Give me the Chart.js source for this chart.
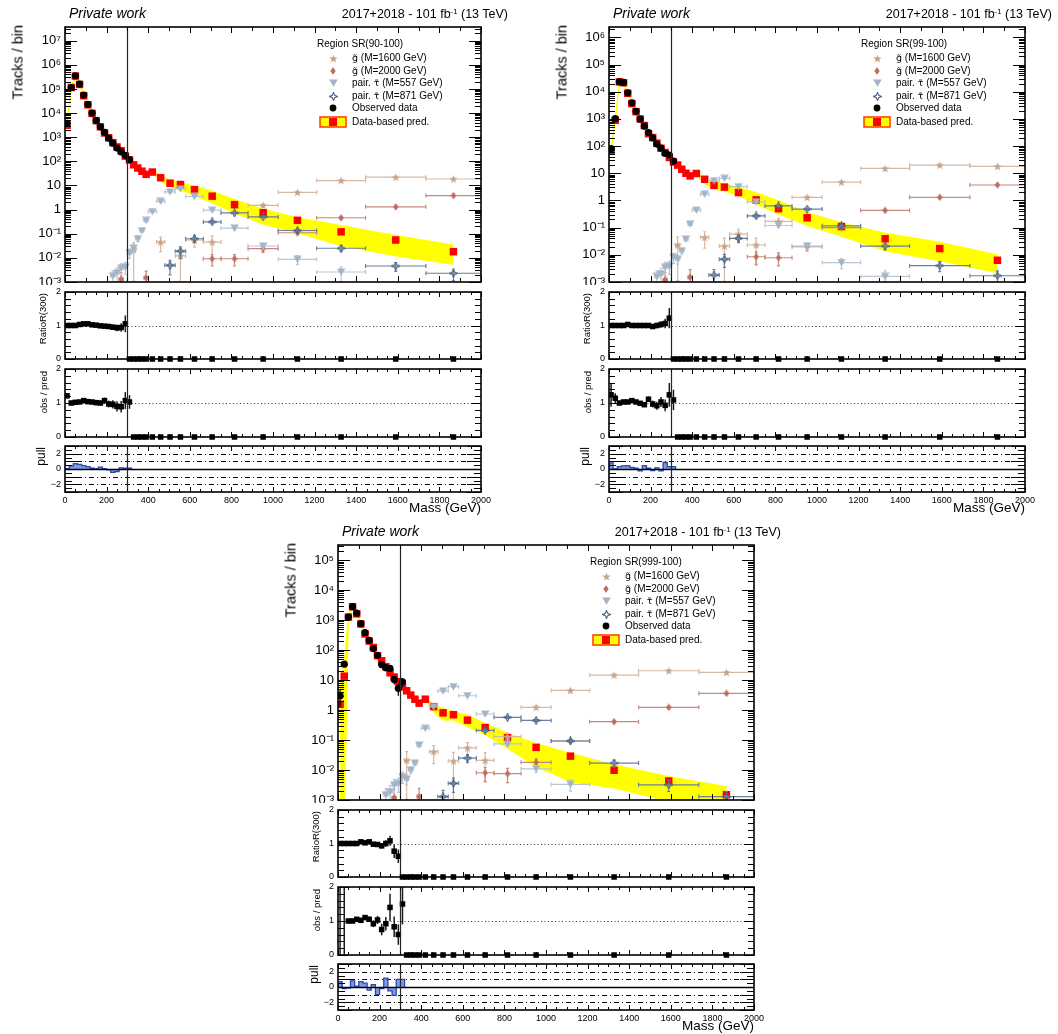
<!DOCTYPE html>
<html>
<head>
<meta charset="utf-8">
<title>Mass distributions</title>
<script src="https://cdn.jsdelivr.net/npm/chart.js@4.4.1/dist/chart.umd.min.js"></script>
<style>
html,body{margin:0;padding:0;background:#fff;}
body{width:1058px;height:1034px;position:relative;overflow:hidden;font-family:"Liberation Sans",Arial,Helvetica,sans-serif;}
canvas{position:absolute;display:block;}
.txt{position:absolute;white-space:nowrap;color:#000;line-height:1;z-index:10;transform:translateY(-50%);}
.vt{position:absolute;white-space:nowrap;color:#000;line-height:1;z-index:10;writing-mode:vertical-rl;transform:rotate(180deg);}
sup{font-size:62%;vertical-align:0;position:relative;top:-0.55em;}
.dj{font-family:"DejaVu Sans",sans-serif;font-size:0.95em;}
</style>
</head>
<body>
<script>
const _ = null;
// ---------------- categories / ticks ----------------
const massBinEdges = [0,20,40,60,80,100,120,140,160,180,200,220,240,260,280,300,320,340,360,380,400,440,480,530,580,665,750,880,1025,1210,1445,1735,2000];
const massTickLabels = [0,200,400,600,800,1000,1200,1400,1600,1800,2000];
const regionTitles = ['Region SR(90-100)','Region SR(99-100)','Region SR(999-100)'];
const legendLabels = ['<span class="dj">g\u0303</span> (M=1600 GeV)','<span class="dj">g\u0303</span> (M=2000 GeV)',
  'pair. <span class="dj">\u03C4\u0303</span> (M=557 GeV)','pair. <span class="dj">\u03C4\u0303</span> (M=871 GeV)','Observed data','Data-based pred.'];
const blindCut = 300;

// ---------------- SR(90-100) ----------------
const obs_90 = [3800,115000,350000,160000,56000,23000,10000,4900,2700,1600,920,570,355,245,177,117];
const pred_90 = [3140,115000,343000,155000,52300,22100,9700,4850,2700,1500,948,594,394,275,165,114, 72,53,39,29,36,21,12.4,11,6.7,3.6,1.6,0.74,0.36,0.12,0.055,0.018];
const predHi_90 = [3500,125000,370000,168000,57000,24000,10600,5300,2950,1650,1040,655,435,305,185,128, 80,59,44,33,41,26,17,13.5,9.3,5.8,2.6,1.05,0.46,0.22,0.085,0.034];
const predLo_90 = [2800,105000,315000,142000,48000,20200,8800,4400,2450,1350,860,535,355,245,146,100, 64,47,34,25,31,15,9,6.5,3.8,1.9,0.75,0.25,0.11,0.032,0.012,0.0054];
const g1600_90 = [_,_,_,_,_,_,_,_,_,_,_,_,_,_,_,_, 0.022,_,_,_,_,0.045,_,0.012,0.055,0.045,_,1.5,5.2,16,22,18.6];
const g2000_90 = [_,_,_,_,_,_,_,_,_,_,_,_,_,0.0013,_,_,_,_,_,0.0015,_,_,_,_,_,0.0092,0.0092,0.024,0.11,0.46,1.3,3.8];
const tau557_90 = [_,_,_,_,_,_,_,_,_,_,_,0.0018,0.0024,0.0038,0.0042,0.016,0.025,0.063,0.136,0.36,0.83,2.2,5.4,7.2,3.5,0.95,0.17,0.031,0.0087,0.0026,_,_];
const tau871_90 = [_,_,_,_,_,_,_,_,_,_,_,_,_,_,_,_,_,_,_,_,_,_,0.0049,0.019,0.062,0.31,0.73,0.5,0.136,0.025,0.0046,0.0023];
const ratio_90 = [1.0,1.0,1.0,1.03,1.05,1.05,1.02,1.01,0.99,0.98,0.97,0.95,0.93,0.94,1.05,0,0,0,0,0,0,0,0,0,0,0,0,0,0,0,0,0];
const ratioErr_90 = [0.01,0.01,0.01,0.01,0.015,0.02,0.03,0.03,0.04,0.05,0.06,0.08,0.1,0.13,0.25];
const obsPred_90 = [1.21,1.0,1.02,1.03,1.07,1.04,1.03,1.01,1.0,1.07,0.97,0.96,0.9,0.89,1.07,1.03,0,0,0,0,0,0,0,0,0,0,0,0,0,0,0,0];
const obsPredErr_90 = [0.06,0.02,0.02,0.02,0.03,0.04,0.05,0.06,0.07,0.09,0.1,0.12,0.15,0.17,0.25,0.2];
const pull_90 = [2.05,0.05,0.4,0.7,0.6,0.45,0.3,0.1,0.05,0.25,0.05,-0.1,-0.45,-0.35,0.15,0.1];

// ---------------- SR(99-100) ----------------
const obs_99 = [81,1020,23000,22000,9100,3900,1900,980,540,316,200,118,85,54,47,28];
const pred_99 = [65,895,23000,21400,8800,3640,1840,990,568,285,206,128,83,58,38,26, 20,14,10,8,9.8,6.0,3.6,3.1,1.95,1.05,0.5,0.23,0.11,0.039,0.017,0.0063];
const predHi_99 = [80,980,25000,23500,9600,4000,2000,1080,620,315,226,141,92,64,42,29, 22.5,16,11.5,9.2,11,6.9,4.8,4.2,3.0,1.95,0.98,0.36,0.15,0.063,0.029,0.01];
const predLo_99 = [52,810,21000,19500,8000,3300,1680,900,516,259,187,116,75,52,34,23, 17.5,12,8.7,6.9,8.5,4.0,2.6,2.2,1.5,0.72,0.32,0.12,0.048,0.014,0.006,0.0022];
const g1600_99 = [_,_,_,_,_,_,_,_,_,_,_,_,_,_,_,_, 0.023,_,_,_,_,0.044,_,0.021,0.058,0.023,0.17,1.3,4.7,15,20,18];
const g2000_99 = [_,_,_,_,_,_,_,_,_,_,_,_,_,0.0012,_,_,_,_,_,0.0015,_,_,_,_,_,0.0085,0.0078,0.02,0.1,0.43,1.3,3.7];
const tau557_99 = [_,_,_,_,_,_,_,_,_,_,_,0.0016,0.002,0.0035,0.0038,0.0081,0.007,0.014,0.038,0.135,0.44,1.7,5.3,6.5,3.2,0.89,0.12,0.021,0.0052,0.0016,_,_];
const tau871_99 = [_,_,_,_,_,_,_,_,_,_,_,_,_,_,_,_,_,_,_,_,_,_,0.0018,0.0069,0.04,0.27,0.63,0.48,0.117,0.021,0.004,0.0017];
const ratio_99 = [1.0,1.0,1.0,1.0,1.03,1.0,1.0,1.0,1.0,1.0,0.97,1.0,1.03,1.06,1.22,0,0,0,0,0,0,0,0,0,0,0,0,0,0,0,0,0];
const ratioErr_99 = [0.02,0.01,0.01,0.01,0.01,0.02,0.02,0.03,0.04,0.05,0.07,0.08,0.1,0.14,0.3];
const obsPred_99 = [1.24,1.14,1.0,1.03,1.03,1.07,1.03,0.99,0.95,1.11,0.97,0.92,1.03,0.93,1.24,1.09,0,0,0,0,0,0,0,0,0,0,0,0,0,0,0,0];
const obsPredErr_99 = [0.35,0.15,0.03,0.02,0.02,0.03,0.04,0.05,0.07,0.08,0.1,0.12,0.15,0.17,0.35,0.3];
const pull_99 = [0.55,0.8,0.0,0.3,0.4,0.45,0.2,0.1,-0.25,0.45,0.1,-0.2,0.15,-0.25,0.85,0.3];

// ---------------- SR(999-100) ----------------
const obs_999 = [3.0,34,1260,2800,1700,760,380,210,112,67,33,26,24.5,10.5,5.3,8.8];
const obsErr_999 = [1.7,5.8,35,53,41,28,19,14.5,10.6,8.2,5.7,5.1,5.0,3.2,2.3,3.0];
const pred_999 = [1.55,13.5,1260,2800,1620,745,345,200,122,65,44,28,17.5,12.6,8.8,5.9, 4.4,3.16,2.3,1.7,2.3,1.3,0.81,0.7,0.46,0.26,0.12,0.057,0.029,0.0098,0.0043,0.0015];
const predHi_999 = [5,40,1400,3100,1780,820,380,220,135,72,49,31,19.5,14,9.5,6.6, 4.9,3.5,2.55,1.9,2.5,1.55,1.14,0.88,0.68,0.36,0.17,0.077,0.036,0.015,0.006,0.0028];
const predLo_999 = [0.0001,0.0001,1120,2500,1460,670,310,180,110,58,39,25,15.5,11.2,7.6,5.2, 3.9,2.8,2.05,1.5,2.05,0.88,0.46,0.47,0.28,0.15,0.053,0.013,0.0041,0.0025,0.0009,0.0005];
const g1600_999 = [_,_,_,_,_,_,_,_,_,_,_,_,_,_,_,_, 0.021,_,_,_,_,0.041,_,0.02,0.055,0.021,0.13,1.23,4.5,14.7,20.5,18];
const g2000_999 = [_,_,_,_,_,_,_,_,_,_,_,_,_,0.0012,_,_,_,_,_,0.0013,_,_,_,_,_,0.0081,0.0076,0.018,0.093,0.41,1.23,3.6];
const tau557_999 = [_,_,_,_,_,_,_,_,_,_,_,0.0015,0.0019,0.0032,0.0036,0.006,0.005,0.01,0.017,0.068,0.245,1.3,4.3,6.0,3.0,0.74,0.074,0.011,0.0033,_,_,_];
const tau871_999 = [_,_,_,_,_,_,_,_,_,_,_,_,_,_,_,_,_,_,_,_,_,_,0.0013,0.0036,0.025,0.21,0.57,0.45,0.093,0.017,0.0032,0.0013];
const ratio_999 = [1.0,1.0,1.0,1.0,1.0,1.05,1.02,1.05,0.98,0.97,0.93,1.0,1.08,0.77,0.62,0,0,0,0,0,0,0,0,0,0,0,0,0,0,0,0,0];
const ratioErr_999 = [0.02,0.02,0.01,0.01,0.01,0.02,0.03,0.04,0.05,0.06,0.08,0.1,0.15,0.2,0.2];
const obsPred_999 = [2.6,2.5,1.0,1.0,1.05,1.02,1.1,1.05,0.92,1.03,0.75,0.92,1.4,0.83,0.6,1.5,0,0,0,0,0,0,0,0,0,0,0,0,0,0,0,0];
const obsPredErr_999 = [2.6,2.5,0.03,0.03,0.04,0.05,0.07,0.08,0.1,0.12,0.17,0.2,0.4,0.3,0.3,0.6];
const pull_999 = [0.5,0.7,-0.2,-0.15,0.8,0.1,0.7,0.5,-0.4,0.3,-1.0,-0.2,1.15,-0.5,-1.1,1.0];

// relative stat. uncertainties of the signal samples (per bin)
const errG1600 = [_,_,_,_,_,_,_,_,_,_,_,_,_,0.9,_,_,0.95,_,_,_,_,0.6,_,0.95,0.5,0.8,0.3,0.12,0.08,0.06,0.06,0.06];
const errG2000 = [_,_,_,_,_,_,_,_,_,_,_,_,_,0.9,_,_,_,_,_,0.9,_,_,_,_,_,0.5,0.5,0.3,0.12,0.08,0.06,0.06];
const errTau557 = [_,_,_,_,_,_,_,_,_,_,_,0.6,0.6,0.5,0.5,0.4,0.35,0.25,0.15,0.1,0.08,0.06,0.05,0.05,0.06,0.08,0.15,0.25,0.4,0.6,_,_];
const errTau871 = [_,_,_,_,_,_,_,_,_,_,_,_,_,_,_,_,_,_,_,_,_,_,0.6,0.5,0.3,0.12,0.08,0.08,0.12,0.25,0.4,0.5];

// ---------------- style / layout ----------------
const FONT = '"Liberation Sans", Arial, Helvetica, sans-serif';
Chart.defaults.font.family = FONT;
const C_G1600 = '#c9a387', B_G1600 = '#d6b9a4';
const C_G2000 = '#bb6c5e', B_G2000 = '#c8897c';
const C_T557 = '#a2b4c6', B_T557 = '#b9c6d3';
const C_T871 = '#4e6788', B_T871 = '#6a7fa0';

const BASE = {L:65, W:416, main:{T:27,H:255}, ratio:{T:292,H:67}, obs:{T:369,H:68}, pull:{T:446,H:46}};
const PADS = {main:{l:60,r:16,t:14,b:14}, ratio:{l:60,r:16,t:14,b:14}, obs:{l:60,r:16,t:14,b:14}, pull:{l:60,r:16,t:14,b:26}};

const PANELS = [
  {dx:0, dy:0, title:regionTitles[0], ymax:3.7e7, obs:obs_90, obsErr:null, pred:pred_90, hi:predHi_90, lo:predLo_90,
   sig:[g1600_90,g2000_90,tau557_90,tau871_90], ratio:ratio_90, ratioErr:ratioErr_90, op:obsPred_90, opErr:obsPredErr_90, pull:pull_90},
  {dx:544, dy:0, title:regionTitles[1], ymax:2.4e6, obs:obs_99, obsErr:null, pred:pred_99, hi:predHi_99, lo:predLo_99,
   sig:[g1600_99,g2000_99,tau557_99,tau871_99], ratio:ratio_99, ratioErr:ratioErr_99, op:obsPred_99, opErr:obsPredErr_99, pull:pull_99},
  {dx:273, dy:518, title:regionTitles[2], ymax:3.2e5, obs:obs_999, obsErr:obsErr_999, pred:pred_999, hi:predHi_999, lo:predLo_999,
   sig:[g1600_999,g2000_999,tau557_999,tau871_999], ratio:ratio_999, ratioErr:ratioErr_999, op:obsPred_999, opErr:obsPredErr_999, pull:pull_999}
];

// ---------------- glyphs ----------------
function mk(w, h, fn){ const c = document.createElement('canvas'); c.width = w; c.height = h; fn(c.getContext('2d'), w, h); return c; }
const G_G1600 = mk(9, 9, (g, w, h) => { g.fillStyle = C_G1600; g.beginPath();
  for (let i = 0; i < 10; i++) { const a = -Math.PI/2 + i*Math.PI/5, r = i % 2 ? 1.8 : 4.4; g.lineTo(w/2 + r*Math.cos(a), h/2 + 0.4 + r*Math.sin(a)); }
  g.closePath(); g.fill(); });
const G_G2000 = mk(6, 8, (g, w, h) => { g.fillStyle = C_G2000; g.beginPath(); g.moveTo(w/2, 0.3); g.lineTo(w - 0.3, h/2); g.lineTo(w/2, h - 0.3); g.lineTo(0.3, h/2); g.closePath(); g.fill(); });
const G_T557 = mk(9, 8, (g, w, h) => { g.fillStyle = C_T557; g.beginPath(); g.moveTo(0.3, 0.5); g.lineTo(w - 0.3, 0.5); g.lineTo(w/2, h - 0.3); g.closePath(); g.fill(); });
const G_T871 = mk(9, 9, (g, w, h) => { g.strokeStyle = C_T871; g.lineWidth = 1.1; g.beginPath();
  const c = w/2; const P = [[c,0.5],[c+1.2,c-1.2],[w-0.5,c],[c+1.2,c+1.2],[c,h-0.5],[c-1.2,c+1.2],[0.5,c],[c-1.2,c-1.2]];
  P.forEach((p, i) => i ? g.lineTo(p[0], p[1]) : g.moveTo(p[0], p[1])); g.closePath(); g.stroke(); });
const SIG_STYLE = [
  {glyph:G_G1600, bar:B_G1600, err:errG1600, order:8},
  {glyph:G_G2000, bar:B_G2000, err:errG2000, order:7},
  {glyph:G_T557, bar:B_T557, err:errTau557, order:6},
  {glyph:G_T871, bar:B_T871, err:errTau871, order:5}
];

// ---------------- helpers ----------------
const centers = massBinEdges.slice(0, -1).map((e, i) => (e + massBinEdges[i + 1]) / 2);
function binPts(vals, opt) {
  opt = opt || {};
  const out = [];
  vals.forEach((v, i) => {
    if (v == null) return;
    const p = {x: centers[i], y: v};
    if (opt.xbar) { p.xlo = massBinEdges[i]; p.xhi = massBinEdges[i + 1]; }
    if (opt.rel && opt.rel[i] != null) { p.ylo = v * (1 - opt.rel[i]); p.yhi = v * (1 + opt.rel[i]); }
    if (opt.abs && opt.abs[i] != null) { p.ylo = v - opt.abs[i]; p.yhi = v + opt.abs[i]; }
    out.push(p);
  });
  return out;
}
function histPts(vals) {
  const n = vals.length;
  const pts = [{x: massBinEdges[0], y: 0}];
  vals.forEach((v, i) => pts.push({x: massBinEdges[i], y: v}));
  pts.push({x: massBinEdges[n], y: vals[n - 1]});
  pts.push({x: massBinEdges[n], y: 0});
  return pts;
}
const SUP = {'-':'\u207B','0':'\u2070','1':'\u00B9','2':'\u00B2','3':'\u00B3','4':'\u2074','5':'\u2075','6':'\u2076','7':'\u2077','8':'\u2078','9':'\u2079'};
function decadeLabel(v) {
  const e = Math.log10(v), r = Math.round(e);
  if (Math.abs(e - r) > 1e-6) return '';
  if (r === 0) return '1';
  if (r === 1) return '10';
  return '10' + String(r).split('').map(c => SUP[c]).join('');
}

function clipTo(ctx, a) { ctx.beginPath(); ctx.rect(a.left, a.top, a.right - a.left, a.bottom - a.top); ctx.clip(); }
function drawErrBars(chart, ds) {
  const ctx = chart.ctx, a = chart.chartArea, xs = chart.scales.x, ys = chart.scales.y;
  const isLog = ys.type === 'logarithmic';
  ctx.save(); clipTo(ctx, a);
  ctx.strokeStyle = ds.errColor; ctx.lineWidth = ds.errWidth || 1;
  ds.data.forEach(p => {
    const px = xs.getPixelForValue(p.x), py = ys.getPixelForValue(p.y);
    ctx.beginPath();
    if (p.xlo != null) {
      const x1 = xs.getPixelForValue(p.xlo), x2 = xs.getPixelForValue(p.xhi);
      ctx.moveTo(x1, py); ctx.lineTo(x2, py);
      if (ds.caps) { ctx.moveTo(x1, py - 2); ctx.lineTo(x1, py + 2); ctx.moveTo(x2, py - 2); ctx.lineTo(x2, py + 2); }
    }
    if (p.ylo != null) {
      let lo = p.ylo; if (isLog && lo <= 0) lo = ys.min * 1e-3;
      const y1 = ys.getPixelForValue(lo), y2 = ys.getPixelForValue(p.yhi);
      ctx.moveTo(px, y1); ctx.lineTo(px, y2);
      if (ds.caps) { ctx.moveTo(px - 1.5, y2); ctx.lineTo(px + 1.5, y2); ctx.moveTo(px - 1.5, y1); ctx.lineTo(px + 1.5, y1); }
    }
    ctx.stroke();
  });
  ctx.restore();
}
function drawHLines(chart, lines, after) {
  if (!lines) return;
  const ctx = chart.ctx, a = chart.chartArea, ys = chart.scales.y;
  lines.filter(l => !!l.after === after).forEach(l => {
    ctx.save(); ctx.strokeStyle = l.color || '#000'; ctx.lineWidth = l.width || 1; ctx.setLineDash(l.dash || []);
    const py = Math.round(ys.getPixelForValue(l.y)) + 0.5;
    ctx.beginPath(); ctx.moveTo(a.left, py); ctx.lineTo(a.right, py); ctx.stroke(); ctx.restore();
  });
}
function yTickList(ys, kind) {
  const out = [];
  if (kind === 'log') {
    for (let e = Math.floor(Math.log10(ys.min)); e <= Math.ceil(Math.log10(ys.max)); e++)
      for (let m = 1; m <= 9; m++) { const v = m * Math.pow(10, e); if (v >= ys.min * 0.999 && v <= ys.max) out.push([v, m === 1 ? 12 : 6]); }
  } else if (kind === 'ratio') {
    for (let k = 0; k <= 10; k++) out.push([k * 0.2, k % 5 === 0 ? 10 : 6]);
  } else {
    for (let k = -6; k <= 6; k++) out.push([k * 0.5, k % 2 === 0 ? 14 : 7]);
  }
  return out;
}
function drawFrameTicks(chart, o) {
  const ctx = chart.ctx, a = chart.chartArea, xs = chart.scales.x, ys = chart.scales.y;
  ctx.save(); ctx.strokeStyle = '#000'; ctx.lineWidth = 1; ctx.beginPath();
  for (let v = xs.min; v <= xs.max + 1e-6; v += o.xMinor) {
    const len = (Math.round(v) % 200 === 0) ? o.xMajLen : o.xMinLen;
    const px = Math.round(xs.getPixelForValue(v)) + 0.5;
    ctx.moveTo(px, a.bottom); ctx.lineTo(px, a.bottom - len);
    ctx.moveTo(px, a.top); ctx.lineTo(px, a.top + len);
  }
  yTickList(ys, o.kind).forEach(([v, len]) => {
    const py = Math.round(ys.getPixelForValue(v)) + 0.5;
    ctx.moveTo(a.left, py); ctx.lineTo(a.left + len, py);
    ctx.moveTo(a.right, py); ctx.lineTo(a.right - len, py);
  });
  ctx.stroke();
  ctx.lineWidth = 1.6; ctx.strokeRect(a.left, a.top, a.right - a.left, a.bottom - a.top);
  ctx.restore();
}
function drawLegendMarks(chart) {
  const ctx = chart.ctx, a = chart.chartArea;
  const mx = a.right - 148, rows = [31, 44, 56, 69, 81, 95].map(r => a.top + r);
  [G_G1600, G_G2000, G_T557, G_T871].forEach((g, i) => ctx.drawImage(g, Math.round(mx - g.width / 2), Math.round(rows[i] - g.height / 2)));
  ctx.save();
  ctx.fillStyle = '#000'; ctx.beginPath(); ctx.arc(mx, rows[4], 3.4, 0, 2 * Math.PI); ctx.fill();
  ctx.fillStyle = '#ffff00'; ctx.fillRect(mx - 13, rows[5] - 5, 26, 10);
  ctx.strokeStyle = '#ff3a00'; ctx.lineWidth = 1.5; ctx.strokeRect(mx - 13, rows[5] - 5, 26, 10);
  ctx.fillStyle = '#ff0000'; ctx.fillRect(mx - 4, rows[5] - 4, 8, 8);
  ctx.restore();
}

const rootPlugin = {
  id: 'root',
  beforeDraw(chart) {
    const c = chart.ctx, o = chart.canvas._root, top = Math.max(0, chart.chartArea.top - o.bgAbove);
    c.save(); c.fillStyle = '#fff'; c.fillRect(0, top, chart.width, chart.height - top); c.restore();
  },
  beforeDatasetsDraw(chart) { drawHLines(chart, chart.canvas._root.hlines, false); },
  beforeDatasetDraw(chart, args) { const ds = chart.data.datasets[args.index]; if (ds.errBars) drawErrBars(chart, ds); },
  afterDatasetsDraw(chart) {
    const o = chart.canvas._root; drawHLines(chart, o.hlines, true);
    const ctx = chart.ctx, a = chart.chartArea, xs = chart.scales.x;
    const px = Math.round(xs.getPixelForValue(blindCut)) + 0.5;
    ctx.save(); ctx.strokeStyle = '#262626'; ctx.lineWidth = 1.2; ctx.beginPath(); ctx.moveTo(px, a.top); ctx.lineTo(px, a.bottom); ctx.stroke(); ctx.restore();
  },
  afterDraw(chart) { const o = chart.canvas._root; drawFrameTicks(chart, o); if (o.legend) drawLegendMarks(chart); }
};

function makeChart(frame, pads, root, yScale, datasets, showX) {
  const c = document.createElement('canvas');
  const w = frame.W + pads.l + pads.r, h = frame.H + pads.t + pads.b;
  c.width = w; c.height = h;
  c.style.left = (frame.L - pads.l) + 'px'; c.style.top = (frame.T - pads.t) + 'px';
  c.style.width = w + 'px'; c.style.height = h + 'px';
  c._root = root;
  document.body.appendChild(c);
  yScale.afterFit = s => { s.width = pads.l; };
  yScale.grid = {display: false, drawTicks: false};
  yScale.border = {display: false};
  return new Chart(c, {
    type: 'scatter',
    data: {datasets},
    options: {
      responsive: false, animation: false, devicePixelRatio: 1,
      events: [],
      layout: {padding: {left: 0, right: pads.r, top: pads.t, bottom: showX ? 0 : pads.b}},
      plugins: {legend: {display: false}, tooltip: {enabled: false}},
      scales: {
        x: {type: 'linear', min: 0, max: 2000, display: showX,
            afterFit: s => { s.height = showX ? pads.b : 0; },
            afterBuildTicks: s => { s.ticks = massTickLabels.map(v => ({value: v})); },
            ticks: {autoSkip: false, maxRotation: 0, minRotation: 0, padding: 3, color: '#000', font: {family: FONT, size: 9}, callback: v => String(v)},
            grid: {display: false, drawTicks: false}, border: {display: false}},
        y: yScale
      }
    },
    plugins: [rootPlugin]
  });
}

function addText(html, cls, style) {
  const d = document.createElement('div'); d.className = cls; d.innerHTML = html;
  Object.assign(d.style, style); document.body.appendChild(d); return d;
}

PANELS.forEach(P => {
  const L = BASE.L + P.dx, R = L + BASE.W;
  const fr = k => ({L: L, W: BASE.W, T: BASE[k].T + P.dy, H: BASE[k].H});
  // ---- main panel ----
  const mainSets = [
    {type: 'line', data: binPts(P.hi), borderColor: '#ffff00', borderWidth: 1, pointRadius: 0, fill: false, order: 20},
    {type: 'line', data: binPts(P.lo), borderColor: '#ffff00', borderWidth: 1, pointRadius: 0, fill: '-1', backgroundColor: '#ffff00', order: 20},
    {data: binPts(P.pred), pointStyle: 'rect', pointRadius: 5.3, pointBackgroundColor: '#ff0000', pointBorderWidth: 0, order: 10}
  ];
  P.sig.forEach((s, i) => {
    const st = SIG_STYLE[i];
    mainSets.push({data: binPts(s, {xbar: true, rel: st.err}), pointStyle: st.glyph, pointRadius: 4, pointBorderWidth: 0,
      errBars: true, errColor: st.bar, errWidth: 1.2, caps: true, order: st.order});
  });
  mainSets.push({data: binPts(P.obs, {abs: P.obsErr}), pointStyle: 'circle', pointRadius: 3.6, pointBackgroundColor: '#000', pointBorderWidth: 0,
    errBars: true, errColor: '#000', errWidth: 1.2, order: 1});
  makeChart(fr('main'), PADS.main, {kind: 'log', xMinor: 100, xMajLen: 6, xMinLen: 4, legend: true, bgAbove: 14},
    {type: 'logarithmic', min: 1e-3, max: P.ymax,
     ticks: {autoSkip: false, padding: 4, color: '#000', font: {family: FONT, size: 13}, callback: v => decadeLabel(v)}},
    mainSets, false);

  // ---- ratio panels ----
  const dotted = [{y: 1, dash: [1, 2.5], color: '#333', width: 1}];
  const ratioY = () => ({type: 'linear', min: 0, max: 2,
    ticks: {stepSize: 1, autoSkip: false, padding: 4, color: '#000', font: {family: FONT, size: 9}, callback: v => String(v)}});
  const ratioSets = (vals, errs) => [
    {data: binPts(vals, {abs: errs}).filter(p => p.y !== 0), pointStyle: 'rect', pointRadius: 3.9, pointBackgroundColor: '#000', pointBorderWidth: 0,
     errBars: true, errColor: '#1a1a1a', errWidth: 1.5},
    {data: binPts(vals).filter(p => p.y === 0), pointStyle: 'rect', pointRadius: 3.9, pointBackgroundColor: '#000', pointBorderWidth: 0, clip: false}
  ];
  makeChart(fr('ratio'), PADS.ratio, {kind: 'ratio', xMinor: 50, xMajLen: 5, xMinLen: 3, hlines: dotted, bgAbove: 7}, ratioY(), ratioSets(P.ratio, P.ratioErr), false);
  makeChart(fr('obs'), PADS.obs, {kind: 'ratio', xMinor: 50, xMajLen: 5, xMinLen: 3, hlines: dotted, bgAbove: 6}, ratioY(), ratioSets(P.op, P.opErr), false);

  // ---- pull panel ----
  const dd = [5, 3, 1, 3];
  const pullLines = [{y: 2, dash: dd}, {y: 1, dash: dd}, {y: -1, dash: dd}, {y: -2, dash: dd}, {y: 0, width: 1.4, after: true}];
  makeChart(fr('pull'), PADS.pull, {kind: 'pull', xMinor: 50, xMajLen: 5, xMinLen: 3, hlines: pullLines, bgAbove: 6},
    {type: 'linear', min: -3, max: 3,
     ticks: {stepSize: 1, autoSkip: false, padding: 4, color: '#000', font: {family: FONT, size: 9},
             callback: v => (Math.abs(v) === 2 || v === 0) ? (v < 0 ? '\u2212' + Math.abs(v) : String(v)) : ''}},
    [{type: 'line', data: histPts(P.pull), stepped: 'after', borderColor: '#2a46b0', borderWidth: 1.3,
      backgroundColor: 'rgba(85,120,210,0.75)', fill: 'origin', pointRadius: 0}], true);

  // ---- texts ----
  const T = BASE.main.T + P.dy;
  addText('Private work', 'txt', {left: (L + 4) + 'px', top: (T - 14) + 'px', fontSize: '14px', fontStyle: 'italic'});
  addText('2017+2018 - 101 fb<sup>-1</sup> (13 TeV)', 'txt', {right: (1058 - (R + 27)) + 'px', top: (T - 13) + 'px', fontSize: '12.5px'});
  addText('Tracks / bin', 'vt', {left: (L - 47 - 7) + 'px', top: (T - 2) + 'px', fontSize: '14.5px'});
  addText(P.title, 'txt', {left: (R - 164) + 'px', top: (T + 17) + 'px', fontSize: '10px'});
  [31, 44, 56, 69, 81, 95].forEach((r, i) => addText(legendLabels[i], 'txt', {left: (R - 129) + 'px', top: (T + r) + 'px', fontSize: '10px'}));
  addText('RatioR(300)', 'vt', {left: (L - 22 - 4.75) + 'px', top: (BASE.ratio.T + P.dy + 1) + 'px', fontSize: '9.5px'});
  addText('obs / pred', 'vt', {left: (L - 21 - 4.75) + 'px', top: (BASE.obs.T + P.dy + 2) + 'px', fontSize: '9.5px'});
  addText('pull', 'vt', {left: (L - 24 - 6) + 'px', top: (BASE.pull.T + P.dy + 1) + 'px', fontSize: '12px'});
  addText('Mass (GeV)', 'txt', {right: (1058 - R) + 'px', top: (BASE.pull.T + BASE.pull.H + P.dy + 16) + 'px', fontSize: '13.5px'});
});
</script>
</body>
</html>
